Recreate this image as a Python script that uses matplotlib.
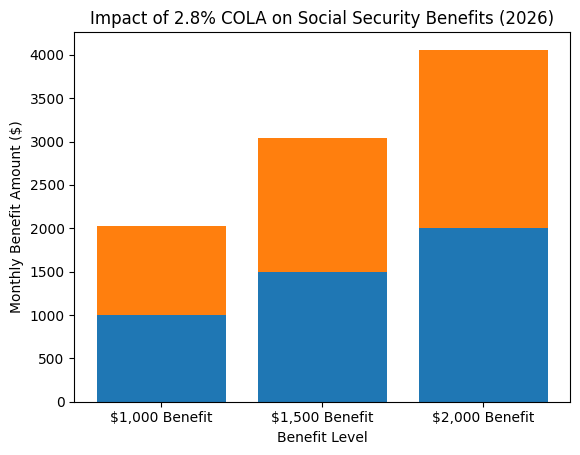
import matplotlib.pyplot as plt

# Benefit levels before and after the 2.8% COLA
levels = ['$1,000 Benefit', '$1,500 Benefit', '$2,000 Benefit']
current = [1000, 1500, 2000]
after_cola = [1028, 1542, 2056]

fig, ax = plt.subplots(figsize=(5.8, 4.55), dpi=100)
ax.bar(levels, current)
ax.bar(levels, after_cola, bottom=current)

ax.set_title('Impact of 2.8% COLA on Social Security Benefits (2026)')
ax.set_xlabel('Benefit Level')
ax.set_ylabel('Monthly Benefit Amount ($)')

plt.subplots_adjust(left=0.128, right=0.983, top=0.929, bottom=0.117)
plt.savefig('out.png', dpi=100)
plt.close()
